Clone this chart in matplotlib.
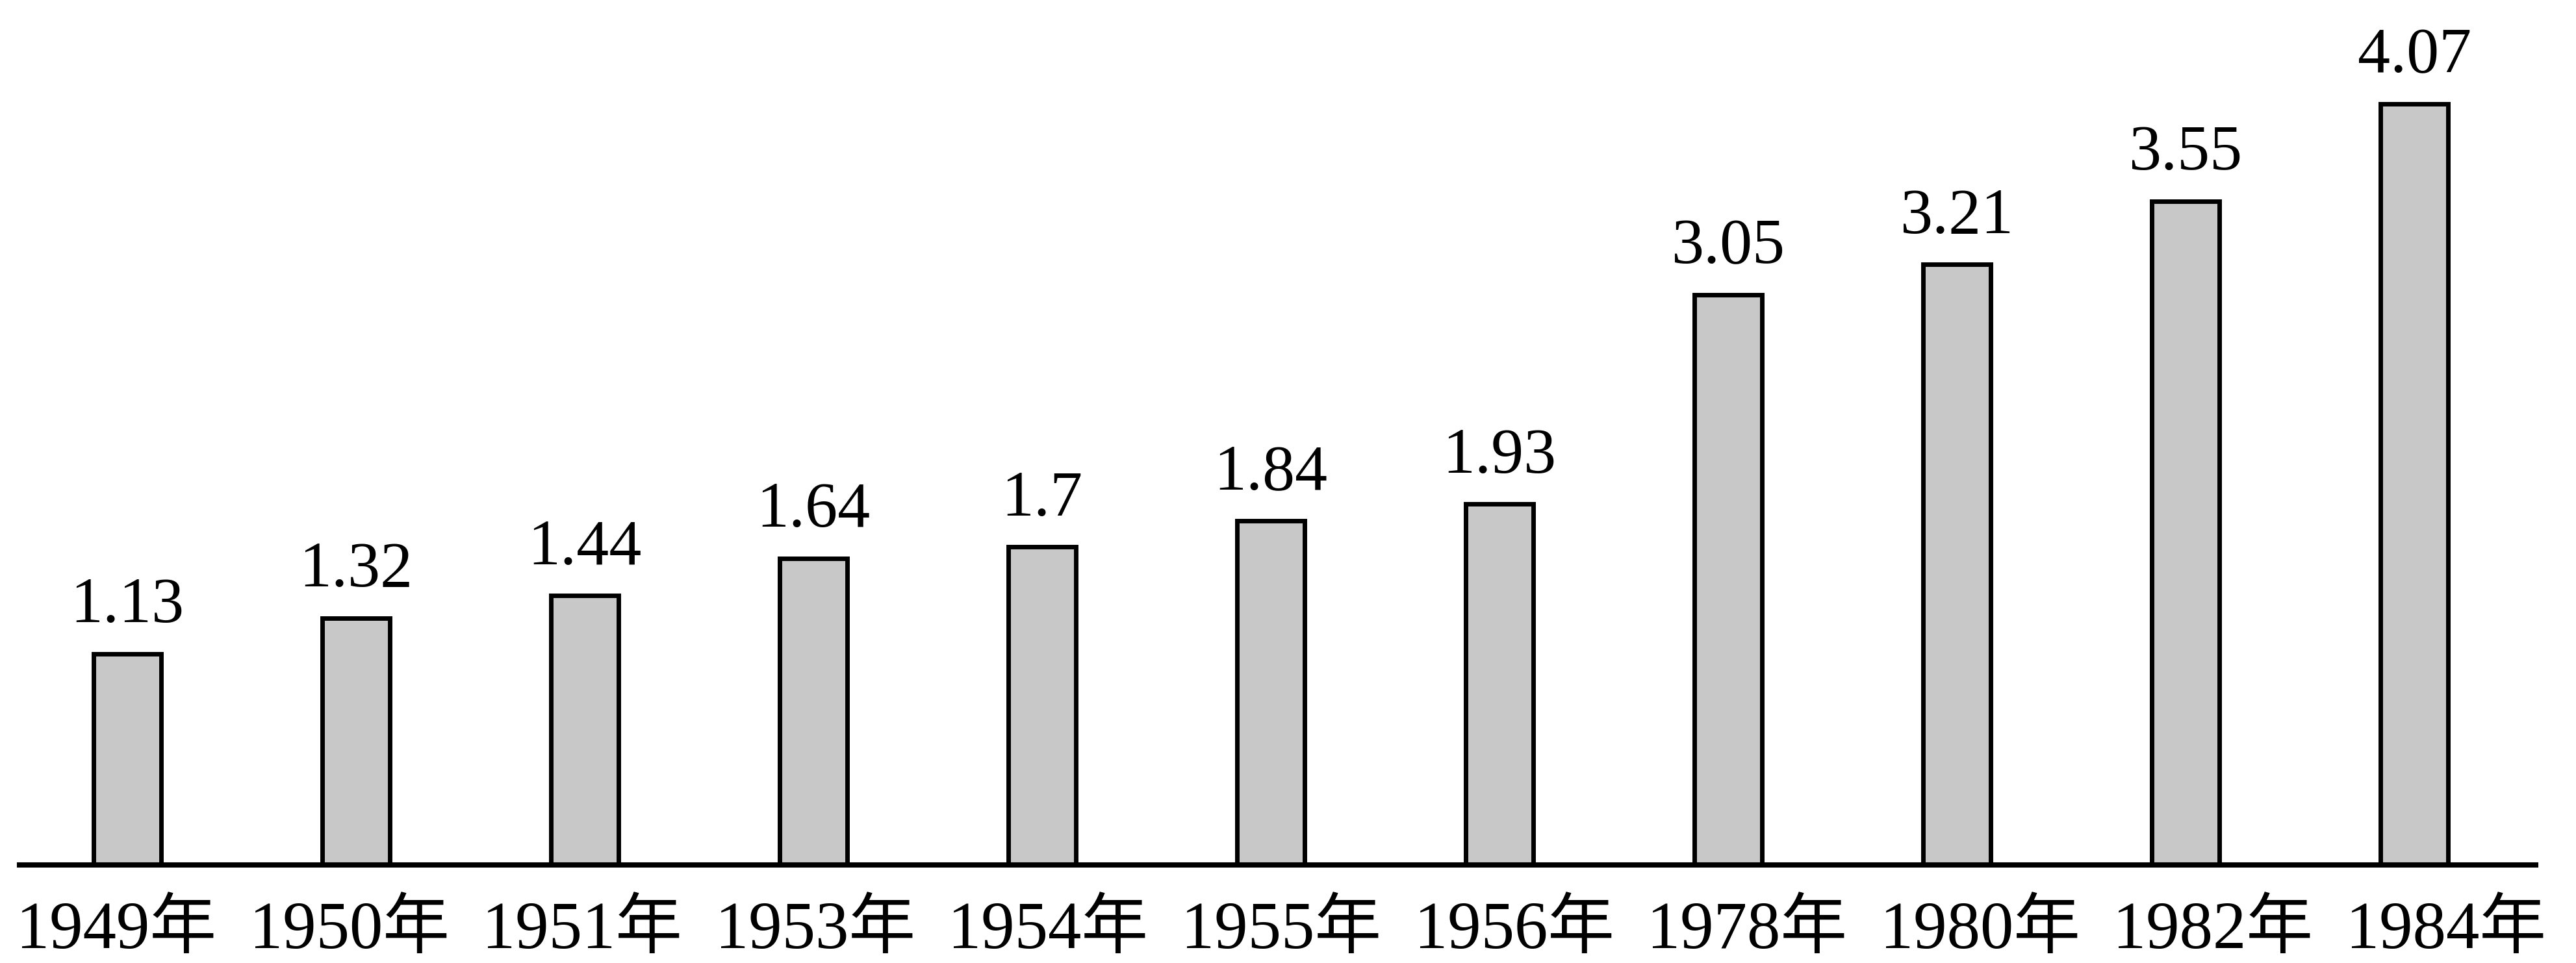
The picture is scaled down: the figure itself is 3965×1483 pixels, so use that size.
import matplotlib
matplotlib.use("Agg")
import matplotlib.pyplot as plt

# data
years = ["1949年", "1950年", "1951年", "1953年", "1954年", "1955年",
         "1956年", "1978年", "1980年", "1982年", "1984年"]
values = [1.13, 1.32, 1.44, 1.64, 1.7, 1.84, 1.93, 3.05, 3.21, 3.55, 4.07]
value_labels = ["1.13", "1.32", "1.44", "1.64", "1.7", "1.84", "1.93",
                "3.05", "3.21", "3.55", "4.07"]

fonts = ["Liberation Serif", "Noto Sans CJK SC"]

fig = plt.figure(figsize=(39.65, 14.83), dpi=100)
ax = fig.add_axes([0.00757, 0.1018, 0.9768, 0.8934])

x = list(range(len(years)))
ax.bar(x, values, width=0.295, color="#c8c8c8", edgecolor="black", linewidth=5)

# value on top of each bar
for xi, v, lab in zip(x, values, value_labels):
    ax.annotate(lab, (xi, v), xytext=(0, 35), textcoords="offset points",
                ha="center", va="baseline", fontsize=72, family=fonts)

ax.set_xlim(-0.4716, 10.531)
ax.set_ylim(0, 4.6)

for s in ["left", "right", "top"]:
    ax.spines[s].set_visible(False)
ax.spines["bottom"].set_linewidth(5.8)
ax.set_yticks([])

# the year labels are spread a little wider than the bars in the original
ax.set_xticks([k * 1.0187 - 0.048 for k in x])
ax.set_xticklabels(years, fontsize=74, family=fonts)
ax.tick_params(axis="x", length=0, pad=40)

fig.savefig("out.png", dpi=100)
